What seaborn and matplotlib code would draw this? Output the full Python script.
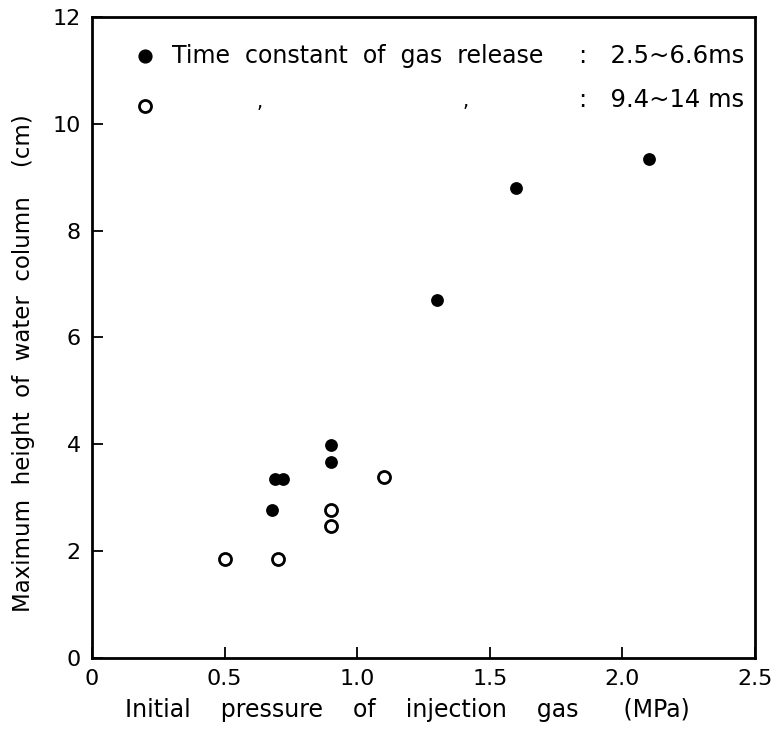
import matplotlib
matplotlib.use("Agg")
import matplotlib.pyplot as plt
import seaborn as sns
import pandas as pd

# filled circles: time constant 2.5~6.6 ms
fast_pressure = [0.68, 0.69, 0.72, 0.90, 0.90, 1.30, 1.60, 2.10]
fast_height = [2.77, 3.35, 3.35, 3.98, 3.67, 6.70, 8.80, 9.35]

# open circles: time constant 9.4~14 ms
slow_pressure = [0.50, 0.70, 0.90, 0.90, 1.10]
slow_height = [1.85, 1.85, 2.77, 2.46, 3.38]

x_ticks = [0, 0.5, 1.0, 1.5, 2.0, 2.5]
x_ticklabels = ["0", "0.5", "1.0", "1.5", "2.0", "2.5"]
y_ticks = [0, 2, 4, 6, 8, 10, 12]

sns.set_style("ticks")
plt.rcParams["font.family"] = ["DejaVu Sans"]
plt.rcParams["text.color"] = "black"
plt.rcParams["axes.labelcolor"] = "black"

fast = pd.DataFrame({"p": fast_pressure, "h": fast_height})
slow = pd.DataFrame({"p": slow_pressure, "h": slow_height})

fig = plt.figure(figsize=(7.8, 7.4), dpi=100)
ax = fig.add_axes([0.118, 0.111, 0.850, 0.866])

sns.scatterplot(data=fast, x="p", y="h", ax=ax, color="black", s=85,
                edgecolor="black", linewidth=0, zorder=3)
sns.scatterplot(data=slow, x="p", y="h", ax=ax, color="white", s=75,
                edgecolor="black", linewidth=2.0, zorder=3)

ax.set_xlim(0, 2.5)
ax.set_ylim(0, 12)
ax.set_xticks(x_ticks)
ax.set_xticklabels(x_ticklabels)
ax.set_yticks(y_ticks)
ax.tick_params(direction="in", length=8, width=1.3, labelsize=16,
               colors="black", pad=8)
for spine in ax.spines.values():
    spine.set_linewidth(2.0)
    spine.set_color("black")
    spine.set_visible(True)

ax.set_xlabel("Initial    pressure    of    injection    gas      (MPa)",
              fontsize=17)
ax.set_ylabel("Maximum  height  of  water  column    (cm)",
              fontsize=16.5)
ax.xaxis.set_label_coords(0.475, -0.062)
ax.yaxis.set_label_coords(-0.086, 0.46)

# hand-drawn style legend inside the plot
ax.scatter([0.2], [11.27], s=85, color="black", zorder=3)
ax.scatter([0.2], [10.34], s=75, facecolor="white", edgecolor="black",
           linewidth=2.0, zorder=3)
ax.text(0.30, 11.27, "Time  constant  of  gas  release", fontsize=17,
        va="center", ha="left")
ax.text(2.46, 11.27, ":   2.5~6.6ms", fontsize=17.5, va="center", ha="right")
ax.text(2.46, 10.45, ":   9.4~14 ms", fontsize=17.5, va="center", ha="right")
ax.text(0.63, 10.40, ",", fontsize=14, va="center", ha="center")
ax.text(1.41, 10.42, ",", fontsize=14, va="center", ha="center")

fig.savefig("out.png", dpi=100)
